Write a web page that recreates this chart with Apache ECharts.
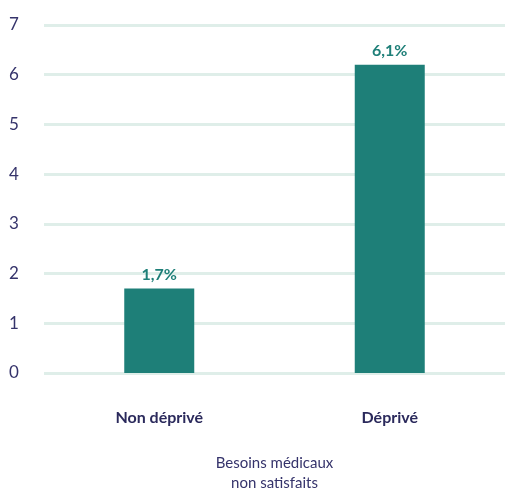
<!DOCTYPE html>
<html><head><meta charset="utf-8">
<script src="https://cdn.jsdelivr.net/npm/echarts@6/dist/echarts.min.js"></script>
<style>html,body{margin:0;padding:0;background:#fff;overflow:hidden}#c{width:509px;height:498px}</style>
</head><body><div id="c"></div>
<script>
const categories = ["Non déprivé", "Déprivé"];
const values = [1.7, 6.2];
const valueLabels = ["1,7%", "6,1%"];
const yTicks = [0, 1, 2, 3, 4, 5, 6, 7];
const axisName = "Besoins médicaux\nnon satisfaits";

const chart = echarts.init(document.getElementById('c'));
chart.setOption({
  animation: false,
  grid: { left: 44, right: 4, top: 25, bottom: 100 },
  xAxis: {
    type: 'category',
    data: categories,
    axisLine: { show: false },
    axisTick: { show: false },
    axisLabel: { margin: 37, fontFamily: 'Lato', fontWeight: 'bold', fontSize: 16, color: '#2b2a5c' },
    name: axisName,
    nameLocation: 'middle',
    nameGap: 80,
    nameTextStyle: { fontFamily: 'Lato', fontSize: 15, color: '#35336b', lineHeight: 20 }
  },
  yAxis: {
    type: 'value',
    min: yTicks[0], max: yTicks[yTicks.length - 1], interval: 1,
    axisLine: { show: false },
    axisTick: { show: false },
    axisLabel: { margin: 22, fontFamily: 'Lato', fontSize: 17, color: '#35336b', align: 'left', padding: [0, 0, 0, -13] },
    splitLine: { lineStyle: { color: '#dfeee9', width: 3 } }
  },
  series: [{
    type: 'bar',
    data: values,
    barWidth: 70,
    itemStyle: { color: '#1e7f78' },
    label: {
      show: true, position: 'top', distance: 6,
      fontFamily: 'Lato', fontWeight: 'bold', fontSize: 16, color: '#1e7f78',
      formatter: p => valueLabels[p.dataIndex]
    }
  }]
});
</script></body></html>
